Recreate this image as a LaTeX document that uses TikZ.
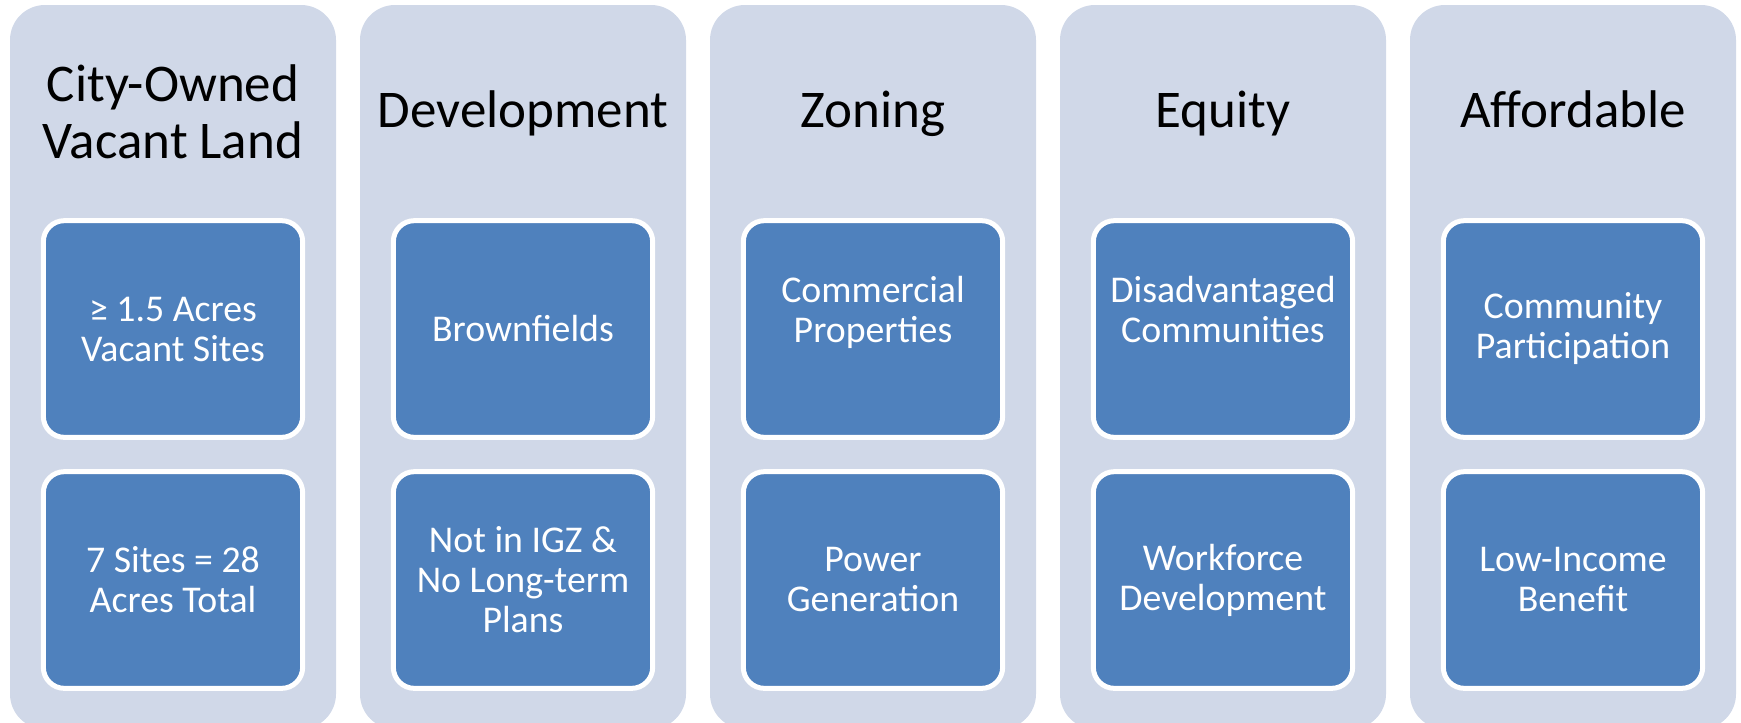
\documentclass[tikz,border=0pt]{standalone}
\usepackage{fontspec}
\setmainfont{Carlito}
\definecolor{colfill}{HTML}{D0D8E8}
\definecolor{boxfill}{HTML}{4F81BD}
\begin{document}
\begin{tikzpicture}[x=1pt,y=-1pt,
  column/.style={fill=colfill, draw=none, rounded corners=35pt, minimum width=326pt, minimum height=724pt, anchor=north west, inner sep=0pt, outer sep=0pt},
  itembox/.style={fill=boxfill, draw=white, line width=5pt, rounded corners=21pt, minimum width=259.3pt, minimum height=216.7pt, text=white, font=\fontsize{37.8}{40}\selectfont, align=center, inner sep=0pt},
  coltitle/.style={font=\fontsize{53}{57}\selectfont, align=center, text=black, inner sep=0pt}]
\useasboundingbox (0,0) rectangle (1741,723);
% columns
\node[column] (c1) at (10,5) {};
\node[column] (c2) at (360,5) {};
\node[column] (c3) at (710,5) {};
\node[column] (c4) at (1060,5) {};
\node[column] (c5) at (1410,5) {};
% titles
\node[coltitle] (h1) at (173,112) {City-Owned\\Vacant Land};
\node[coltitle, anchor=base] (h2) at (523,127) {Development};
\node[coltitle, anchor=base] (h3) at (873,127) {Zoning};
\node[coltitle, anchor=base] (h4) at (1223,127) {Equity};
\node[coltitle, anchor=base] (h5) at (1573,127) {Affordable};
% boxes
\node[itembox] (b11) at (173,329) {≥ 1.5 Acres\\Vacant Sites};
\node[itembox] (b12) at (173,580) {7 Sites = 28\\Acres Total};
\node[itembox] (b21) at (523,329) {Brownfields};
\node[itembox] (b22) at (523,580) {Not in IGZ \&\\No Long-term\\Plans};
\node[itembox] (b31) at (873,329) {Commercial\\Properties\\\mbox{}};
\node[itembox] (b32) at (873,580) {Power\\Generation};
\node[itembox] (b41) at (1223,329) {Disadvantaged\\Communities\\\mbox{}};
\node[itembox] (b42) at (1223,580) {Workforce\\Development};
\node[itembox] (b51) at (1573,329) {Community\\Participation};
\node[itembox] (b52) at (1573,580) {Low-Income\\Benefit};
\end{tikzpicture}
\end{document}
